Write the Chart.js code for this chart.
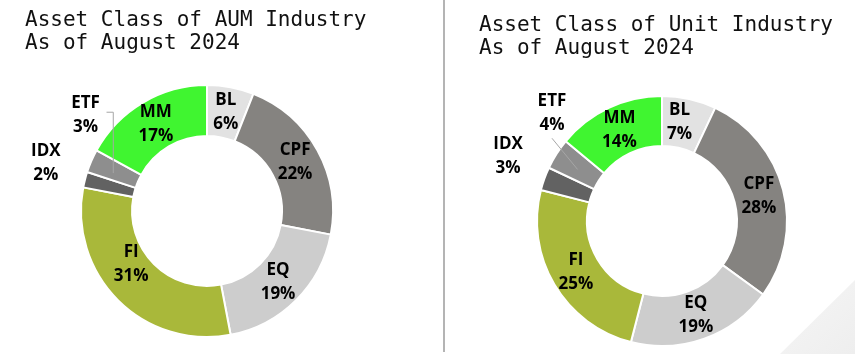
<!DOCTYPE html>
<html>
<head>
<meta charset="utf-8">
<script src="https://cdn.jsdelivr.net/npm/chart.js@4"></script>
<style>
  html, body { margin: 0; padding: 0; background: #fff; }
  body { width: 855px; height: 354px; position: relative; overflow: hidden; }
  .title { position: absolute; font-family: "DejaVu Sans Mono", monospace; font-size: 21px; line-height: 22.5px; color: #111; white-space: pre; }
  #t1 { left: 25px; top: 8px; }
  #t2 { left: 479px; top: 13px; }
  .divider { position: absolute; left: 443px; top: 0; width: 2px; height: 352px; background: #b4b4b4; }
  .wm { position: absolute; left: 770px; top: 270px; width: 85px; height: 84px;
        clip-path: polygon(10px 84px, 85px 10px, 85px 84px);
        background: linear-gradient(135deg, #f7f7f7, #eeeeee); }
  #c1wrap { position: absolute; left: 0; top: 0; width: 443px; height: 354px; }
  #c2wrap { position: absolute; left: 445px; top: 0; width: 410px; height: 354px; }
</style>
</head>
<body>
<div class="wm"></div>
<div class="divider"></div>
<div id="c1wrap"><canvas id="c1" width="443" height="354"></canvas></div>
<div id="c2wrap"><canvas id="c2" width="410" height="354"></canvas></div>
<div class="title" id="t1">Asset Class of AUM Industry
As of August 2024</div>
<div class="title" id="t2">Asset Class of Unit Industry
As of August 2024</div>
<script>
// ---- data ----
const categories = ['BL', 'CPF', 'EQ', 'FI', 'IDX', 'ETF', 'MM'];
const aumShare  = [6, 22, 19, 31, 2, 3, 17];
const unitShare = [7, 28, 19, 25, 3, 4, 14];
const titleAUM  = ['Asset Class of AUM Industry', 'As of August 2024'];
const titleUnit = ['Asset Class of Unit Industry', 'As of August 2024'];

// ---- styles ----
const sliceColors = ['#e2e2e2', '#858380', '#cdcdcd', '#a9b83a', '#626262', '#8e8e8e', '#40f530'];

const sliceLabels = {
  id: 'sliceLabels',
  afterDatasetsDraw(chart, args, opts) {
    const ctx = chart.ctx;
    const meta = chart.getDatasetMeta(0);
    const labels = chart.data.labels;
    const values = chart.data.datasets[0].data;
    ctx.save();
    ctx.font = 'bold 17px "Open Sans", "Noto Sans", sans-serif';
    ctx.textAlign = 'center';
    ctx.textBaseline = 'middle';
    meta.data.forEach((arc, i) => {
      const p = arc.getProps(['x', 'y', 'startAngle', 'endAngle', 'innerRadius', 'outerRadius'], true);
      const name = labels[i];
      const mid = (p.startAngle + p.endAngle) / 2;
      const midR = (p.innerRadius + p.outerRadius) / 2;
      const n = (opts.nudge && opts.nudge[name]) || {};
      const outside = opts.outside.includes(name);
      const r = outside ? p.outerRadius + (n.dr || 0) : midR + (n.dr || 0);
      const a = mid + (n.da || 0) * Math.PI / 180;
      const lx = p.x + r * Math.cos(a);
      const ly = p.y + r * Math.sin(a);
      const lead = opts.leader && opts.leader[name];
      if (lead) {
        const cx = p.x + midR * Math.cos(mid);
        const cy = p.y + midR * Math.sin(mid);
        ctx.strokeStyle = '#a6a6a6';
        ctx.lineWidth = 1;
        ctx.beginPath();
        if (lead === 'elbow') {
          ctx.moveTo(lx + 21, ly - 2.5);
          ctx.lineTo(cx - 1.5, ly - 2.5);
          ctx.lineTo(cx - 1.5, cy + 2);
        } else {
          ctx.moveTo(lx, ly + 25);
          ctx.lineTo(cx, cy + 2);
        }
        ctx.stroke();
      }
      ctx.fillStyle = '#000';
      ctx.fillText(name, lx, ly - 12);
      ctx.fillText(values[i] + '%', lx, ly + 12);
    });
    ctx.restore();
  }
};

function makeChart(id, values, padding, cutout, nudge, leader) {
  return new Chart(document.getElementById(id), {
    type: 'doughnut',
    data: {
      labels: categories,
      datasets: [{
        data: values,
        backgroundColor: sliceColors,
        borderColor: '#ffffff',
        borderWidth: 2,
        hoverOffset: 0
      }]
    },
    options: {
      responsive: false,
      animation: false,
      events: [],
      cutout: cutout,
      layout: { padding: padding },
      plugins: {
        legend: { display: false },
        tooltip: { enabled: false },
        title: { display: false },
        sliceLabels: { outside: ['IDX', 'ETF'], nudge: nudge, leader: leader }
      }
    },
    plugins: [sliceLabels]
  });
}

makeChart('c1', aumShare,
  { left: 80, right: 109, top: 84, bottom: 16 }, '59.5%',
  { FI: { da: 10, dr: -8 }, IDX: { da: 2, dr: 42 }, ETF: { da: 15, dr: 29 } },
  { ETF: 'elbow' });

makeChart('c2', unitShare,
  { left: 91, right: 67, top: 95, bottom: 7 }, '60%',
  { BL: { da: -2.5 }, IDX: { da: 3, dr: 42 }, ETF: { da: 12, dr: 29 } },
  { ETF: 'straight' });
</script>
</body>
</html>
